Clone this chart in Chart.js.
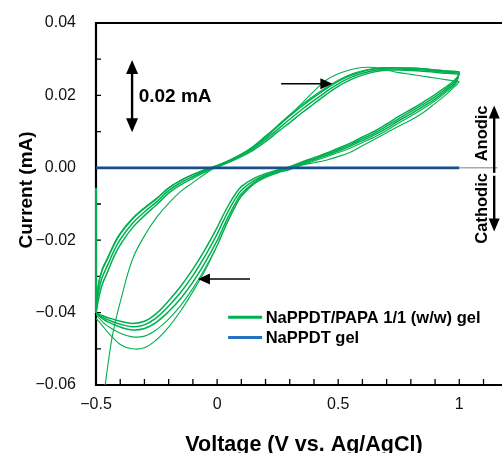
<!DOCTYPE html>
<html><head><meta charset="utf-8">
<script src="https://cdn.jsdelivr.net/npm/chart.js@4.4.1/dist/chart.umd.min.js"></script>
<style>
html,body{margin:0;padding:0;overflow:hidden;background:#fff;width:502px;height:453px}
#wrap{position:absolute;left:0;top:0;width:520px;height:453px}
</style>
</head><body><div id="wrap"><canvas id="c" width="520" height="453"></canvas></div>
<script>
// ---------- DATA ----------
// Potential sampling of a CV cycle (V vs. Ag/AgCl)
const potentialForward = [-0.5, -0.49, -0.475, -0.45, -0.425, -0.4, -0.35, -0.3, -0.25, -0.2, -0.15, -0.1, -0.05, 0, 0.05, 0.1, 0.15, 0.2, 0.25, 0.3, 0.35, 0.4, 0.45, 0.5, 0.55, 0.6, 0.65, 0.7, 0.75, 0.8, 0.85, 0.9, 0.95, 1.0];
const potentialReverse = [0.99, 0.975, 0.95, 0.9, 0.85, 0.8, 0.75, 0.7, 0.65, 0.6, 0.55, 0.5, 0.45, 0.4, 0.35, 0.3, 0.25, 0.2, 0.15, 0.1, 0.075, 0.05, 0.025, 0, -0.05, -0.1, -0.15, -0.2, -0.25, -0.3, -0.35, -0.4, -0.45, -0.475, -0.5];
const potentialCycle1Forward = [-0.475, -0.463, -0.45, -0.43, -0.4, -0.35, -0.3, -0.25, -0.2, -0.15, -0.1, -0.05, 0, 0.05, 0.1, 0.15, 0.2, 0.25, 0.3, 0.35, 0.4, 0.45, 0.5, 0.55, 0.6, 0.65, 0.7, 0.75, 0.8, 0.85, 0.9, 0.95, 1.0];

// NaPPDT/PAPA 1/1 (w/w) gel, current (mA)
const currentCycle1Forward = [-0.0660, -0.0605, -0.0540, -0.0456, -0.0371, -0.0254, -0.0188, -0.0137, -0.0098, -0.0065, -0.0041, -0.0017, 0.0004, 0.0020, 0.0037, 0.0060, 0.0088, 0.0115, 0.0145, 0.0178, 0.0212, 0.0242, 0.0260, 0.0271, 0.0277, 0.0277, 0.0270, 0.0263, 0.0258, 0.0253, 0.0248, 0.0243, 0.0238];
const currentCycle1Reverse = [0.0230, 0.0221, 0.0205, 0.0178, 0.0152, 0.0132, 0.0115, 0.0097, 0.0079, 0.0061, 0.0043, 0.0031, 0.0021, 0.0014, 0.0008, -0.0002, -0.0010, -0.0021, -0.0042, -0.0078, -0.0107, -0.0140, -0.0176, -0.0215, -0.0284, -0.0342, -0.0395, -0.0440, -0.0475, -0.0497, -0.0500, -0.0488, -0.0455, -0.0435, -0.0416];
const currentCycle2Forward = [-0.0405, -0.0322, -0.0281, -0.0245, -0.0209, -0.0180, -0.0140, -0.0110, -0.0084, -0.0055, -0.0034, -0.0018, -0.0005, 0.0007, 0.0021, 0.0038, 0.0059, 0.0086, 0.0117, 0.0147, 0.0174, 0.0199, 0.0222, 0.0242, 0.0258, 0.0268, 0.0275, 0.0277, 0.0277, 0.0276, 0.0274, 0.0271, 0.0268, 0.0266];
const currentCycle2Reverse = [0.0237, 0.0225, 0.0211, 0.0185, 0.0163, 0.0143, 0.0124, 0.0103, 0.0085, 0.0070, 0.0055, 0.0042, 0.0030, 0.0019, 0.0008, -0.0005, -0.0014, -0.0027, -0.0046, -0.0079, -0.0107, -0.0140, -0.0177, -0.0215, -0.0278, -0.0333, -0.0380, -0.0418, -0.0447, -0.0465, -0.0467, -0.0457, -0.0438, -0.0424, -0.0405];
const currentCycle3Forward = [-0.0401, -0.0325, -0.0284, -0.0248, -0.0212, -0.0183, -0.0142, -0.0112, -0.0086, -0.0056, -0.0035, -0.0019, -0.0006, 0.0006, 0.0020, 0.0037, 0.0057, 0.0083, 0.0114, 0.0143, 0.0170, 0.0195, 0.0218, 0.0239, 0.0255, 0.0266, 0.0273, 0.0276, 0.0276, 0.0275, 0.0273, 0.0270, 0.0267, 0.0265];
const currentCycle3Reverse = [0.0241, 0.0229, 0.0216, 0.0190, 0.0169, 0.0149, 0.0130, 0.0109, 0.0091, 0.0075, 0.0060, 0.0046, 0.0034, 0.0022, 0.0010, -0.0003, -0.0012, -0.0024, -0.0042, -0.0072, -0.0099, -0.0130, -0.0165, -0.0201, -0.0262, -0.0316, -0.0361, -0.0397, -0.0426, -0.0444, -0.0448, -0.0440, -0.0426, -0.0416, -0.0401];
const currentCycle4Forward = [-0.0401, -0.0345, -0.0304, -0.0266, -0.0228, -0.0198, -0.0154, -0.0122, -0.0094, -0.0063, -0.0041, -0.0024, -0.0009, 0.0004, 0.0018, 0.0034, 0.0053, 0.0078, 0.0106, 0.0134, 0.0161, 0.0186, 0.0210, 0.0232, 0.0249, 0.0261, 0.0269, 0.0273, 0.0273, 0.0272, 0.0270, 0.0267, 0.0264, 0.0262];
const currentCycle4Reverse = [0.0245, 0.0234, 0.0221, 0.0196, 0.0175, 0.0155, 0.0136, 0.0115, 0.0096, 0.0080, 0.0064, 0.0050, 0.0037, 0.0025, 0.0013, 0.0000, -0.0009, -0.0020, -0.0036, -0.0062, -0.0086, -0.0115, -0.0148, -0.0183, -0.0244, -0.0298, -0.0344, -0.0382, -0.0414, -0.0434, -0.0439, -0.0432, -0.0420, -0.0412, -0.0401];
const currentCycle5Forward = [-0.0401, -0.0365, -0.0324, -0.0284, -0.0244, -0.0213, -0.0166, -0.0132, -0.0102, -0.0070, -0.0047, -0.0029, -0.0012, 0.0002, 0.0016, 0.0031, 0.0049, 0.0072, 0.0099, 0.0125, 0.0152, 0.0177, 0.0202, 0.0225, 0.0243, 0.0256, 0.0265, 0.0270, 0.0270, 0.0269, 0.0267, 0.0264, 0.0261, 0.0259];
const currentCycle5Reverse = [0.0249, 0.0239, 0.0226, 0.0202, 0.0181, 0.0161, 0.0142, 0.0121, 0.0101, 0.0085, 0.0068, 0.0054, 0.0040, 0.0028, 0.0016, 0.0003, -0.0006, -0.0016, -0.0030, -0.0052, -0.0073, -0.0100, -0.0131, -0.0165, -0.0226, -0.0280, -0.0327, -0.0367, -0.0402, -0.0424, -0.0430, -0.0424, -0.0414, -0.0408, -0.0401];
// initial hold at -0.5 V
const potentialStart = [-0.5, -0.5];
const currentStart = [-0.0055, -0.0401];

// NaPPDT gel
const potentialNaPPDT = [-0.5, 1.0];
const currentNaPPDT = [0, 0];

// Axis ticks
const xTicks = [-0.5, 0, 0.5, 1];
const xTickLabels = ['\u22120.5', '0', '0.5', '1'];
const xMinorTicks = [-0.4, -0.3, -0.2, -0.1, 0.1, 0.2, 0.3, 0.4, 0.6, 0.7, 0.8, 0.9, 1.1, 1.2];
const yTicks = [-0.06, -0.04, -0.02, 0, 0.02, 0.04];
const yTickLabels = ['\u22120.06', '\u22120.04', '\u22120.02', '0.00', '0.02', '0.04'];
const yMinorTicks = [-0.05, -0.03, -0.01, 0.01, 0.03];

const seriesNames = ['NaPPDT/PAPA 1/1 (w/w) gel', 'NaPPDT gel'];

// ---------- STYLE / LAYOUT ----------
const FONT = "'Liberation Sans', Arial, Helvetica, sans-serif";
const GREEN = '#00b050';
const BLUE = '#184f8c';
const BLUE_LEGEND = '#2272c0';
const PLOT = {top: 23, bottom: 385, left: 96, pxPerVolt: 242.2};
let padTop = PLOT.top;
let xAxisHeight = 453 - PLOT.bottom;
let xMax = 1.25;

// annotation anchors in data units
const ANN = {
  scaleBar: {x: -0.351, y1: 0.0298, y2: 0.0098, textX: -0.324, textY: 0.0195, text: '0.02 mA'},
  arrowFwd: {from: 0.2645, to: 0.476, y: 0.0232},
  arrowRev: {from: 0.136, to: -0.079, y: -0.0307},
  sideText: {x: 1.094, anodicY: 0.0095, cathodicY: -0.0112},
  sideArrow: {x: 1.144, upFrom: -0.0014, upTo: 0.0172, downFrom: -0.0022, downTo: -0.0176},
  sep: {from: 1.0, to: 1.157, y: 0},
  legend: {x1: 0.0455, x2: 0.186, textX: 0.2005, y1: -0.0413, y2: -0.0469}
};

function branch(vs, is) { return vs.map((v, k) => ({x: v, y: is[k]})); }
function closeRev(fwd, rev) { return branch([1.0].concat(potentialReverse), [fwd[fwd.length - 1]].concat(rev)); }

const cycles = [
  {f: branch(potentialCycle1Forward, currentCycle1Forward), r: closeRev(currentCycle1Forward, currentCycle1Reverse), w: 1.1},
  {f: branch(potentialForward, currentCycle2Forward), r: closeRev(currentCycle2Forward, currentCycle2Reverse), w: 1.1},
  {f: branch(potentialForward, currentCycle3Forward), r: closeRev(currentCycle3Forward, currentCycle3Reverse), w: 1.5},
  {f: branch(potentialForward, currentCycle4Forward), r: closeRev(currentCycle4Forward, currentCycle4Reverse), w: 1.5},
  {f: branch(potentialForward, currentCycle5Forward), r: closeRev(currentCycle5Forward, currentCycle5Reverse), w: 1.5}
];

function makeDatasets() {
  const ds = [];
  ds.push({label: seriesNames[1], data: branch(potentialNaPPDT, currentNaPPDT), borderColor: BLUE, borderWidth: 2.8, showLine: true, pointRadius: 0, tension: 0, order: 0});
  cycles.forEach(c => {
    [c.f, c.r].forEach(d => ds.push({label: seriesNames[0], data: d, borderColor: GREEN, borderWidth: c.w, showLine: true, pointRadius: 0, tension: 0.4, order: 2}));
  });
  ds.push({label: seriesNames[0], data: branch(potentialStart, currentStart), borderColor: GREEN, borderWidth: 2, showLine: true, pointRadius: 0, tension: 0, order: 1, clip: false});
  return ds;
}

function arrowHead(ctx, tx, ty, dx, dy, len, half) {
  const n = Math.hypot(dx, dy); const ux = dx / n, uy = dy / n;
  ctx.beginPath();
  ctx.moveTo(tx, ty);
  ctx.lineTo(tx - ux * len - uy * half, ty - uy * len + ux * half);
  ctx.lineTo(tx - ux * len + uy * half, ty - uy * len - ux * half);
  ctx.closePath(); ctx.fill();
}
function arrow(ctx, x1, y1, x2, y2, lw, len, half) {
  const n = Math.hypot(x2 - x1, y2 - y1);
  ctx.lineWidth = lw;
  ctx.beginPath(); ctx.moveTo(x1, y1);
  ctx.lineTo(x2 - (x2 - x1) / n * (len - 1), y2 - (y2 - y1) / n * (len - 1)); ctx.stroke();
  arrowHead(ctx, x2, y2, x2 - x1, y2 - y1, len, half);
}

const decor = {
  id: 'decor',
  beforeDatasetsDraw(chart) {
    const {ctx, chartArea: a, scales: {x, y}} = chart;
    ctx.save();
    ctx.strokeStyle = '#000';
    ctx.lineWidth = 1.3;
    ctx.beginPath();
    xTicks.concat(xMinorTicks).forEach(v => { const p = x.getPixelForValue(v); ctx.moveTo(p, a.bottom); ctx.lineTo(p, a.bottom - 6); });
    yTicks.concat(yMinorTicks).forEach(v => { const p = y.getPixelForValue(v); ctx.moveTo(a.left, p); ctx.lineTo(a.left + 5, p); });
    ctx.stroke();
    ctx.lineWidth = 2.2;
    ctx.beginPath();
    ctx.moveTo(a.right + 5, a.top); ctx.lineTo(a.left, a.top); ctx.lineTo(a.left, a.bottom); ctx.lineTo(a.right + 5, a.bottom);
    ctx.stroke();
    ctx.restore();
  },
  afterDatasetsDraw(chart) {
    const {ctx, scales: {x, y}} = chart;
    ctx.save();
    ctx.fillStyle = '#000';
    // separator
    ctx.strokeStyle = '#a8a8a8'; ctx.lineWidth = 1.6;
    ctx.beginPath(); ctx.moveTo(x.getPixelForValue(ANN.sep.from), y.getPixelForValue(ANN.sep.y)); ctx.lineTo(x.getPixelForValue(ANN.sep.to), y.getPixelForValue(ANN.sep.y)); ctx.stroke();
    ctx.strokeStyle = '#000';
    // scale bar double arrow
    const sbx = x.getPixelForValue(ANN.scaleBar.x), sy1 = y.getPixelForValue(ANN.scaleBar.y1), sy2 = y.getPixelForValue(ANN.scaleBar.y2);
    ctx.lineWidth = 2.4;
    ctx.beginPath(); ctx.moveTo(sbx, sy1 + 12); ctx.lineTo(sbx, sy2 - 12); ctx.stroke();
    arrowHead(ctx, sbx, sy1, 0, -1, 14, 6);
    arrowHead(ctx, sbx, sy2, 0, 1, 14, 6);
    ctx.font = 'bold 19px ' + FONT; ctx.textAlign = 'left'; ctx.textBaseline = 'middle';
    ctx.fillText(ANN.scaleBar.text, x.getPixelForValue(ANN.scaleBar.textX), y.getPixelForValue(ANN.scaleBar.textY));
    // direction arrows
    arrow(ctx, x.getPixelForValue(ANN.arrowFwd.from), y.getPixelForValue(ANN.arrowFwd.y), x.getPixelForValue(ANN.arrowFwd.to), y.getPixelForValue(ANN.arrowFwd.y), 1.6, 12, 5.5);
    arrow(ctx, x.getPixelForValue(ANN.arrowRev.from), y.getPixelForValue(ANN.arrowRev.y), x.getPixelForValue(ANN.arrowRev.to), y.getPixelForValue(ANN.arrowRev.y), 1.6, 12, 5.5);
    // Anodic / Cathodic
    const sx = x.getPixelForValue(ANN.sideText.x);
    ctx.font = 'bold 16.5px ' + FONT; ctx.textAlign = 'center'; ctx.textBaseline = 'middle';
    [['Anodic', ANN.sideText.anodicY], ['Cathodic', ANN.sideText.cathodicY]].forEach(([t, v]) => {
      ctx.save(); ctx.translate(sx, y.getPixelForValue(v)); ctx.rotate(-Math.PI / 2); ctx.fillText(t, 0, 0); ctx.restore();
    });
    const ax = x.getPixelForValue(ANN.sideArrow.x);
    arrow(ctx, ax, y.getPixelForValue(ANN.sideArrow.upFrom), ax, y.getPixelForValue(ANN.sideArrow.upTo), 2.4, 13, 5.5);
    arrow(ctx, ax, y.getPixelForValue(ANN.sideArrow.downFrom), ax, y.getPixelForValue(ANN.sideArrow.downTo), 2.4, 13, 5.5);
    // legend
    const L = ANN.legend;
    [[GREEN, L.y1, seriesNames[0]], [BLUE_LEGEND, L.y2, seriesNames[1]]].forEach(([col, v, t]) => {
      const py = y.getPixelForValue(v);
      ctx.lineWidth = 3;
      ctx.strokeStyle = col; ctx.beginPath(); ctx.moveTo(x.getPixelForValue(L.x1), py); ctx.lineTo(x.getPixelForValue(L.x2), py); ctx.stroke();
      ctx.fillStyle = '#000'; ctx.font = 'bold 16.5px ' + FONT; ctx.textAlign = 'left'; ctx.textBaseline = 'middle';
      ctx.fillText(t, x.getPixelForValue(L.textX), py + 1);
    });
    // axis titles
    ctx.fillStyle = '#000';
    ctx.font = 'bold 19px ' + FONT; ctx.textAlign = 'center'; ctx.textBaseline = 'middle';
    ctx.save(); ctx.translate(27, 190); ctx.rotate(-Math.PI / 2); ctx.fillText('Current (mA)', 0, 0); ctx.restore();
    ctx.font = 'bold 21.5px ' + FONT;
    ctx.fillText('Voltage (V vs. Ag/AgCl)', 304, 445);
    ctx.restore();
  }
};

function makeConfig() {
  return {
    type: 'scatter',
    data: {datasets: makeDatasets()},
    options: {
      responsive: false, animation: false,
      layout: {padding: {top: padTop, right: 0, bottom: 0, left: 0}},
      plugins: {legend: {display: false}, tooltip: {enabled: false}},
      scales: {
        x: {
          type: 'linear', min: -0.5, max: xMax,
          grid: {display: false, drawTicks: false}, border: {display: false},
          afterBuildTicks: s => { s.ticks = xTicks.map(v => ({value: v})); },
          afterFit: s => { s.height = xAxisHeight; s.paddingLeft = 0; s.paddingRight = 0; },
          ticks: {padding: 10, color: '#111', font: {family: FONT, size: 16}, maxRotation: 0, autoSkip: false,
            callback: (v, i) => xTickLabels[i]}
        },
        y: {
          type: 'linear', min: -0.06, max: 0.04,
          grid: {display: false, drawTicks: false}, border: {display: false},
          afterBuildTicks: s => { s.ticks = yTicks.map(v => ({value: v})); },
          afterFit: s => { s.width = PLOT.left; s.paddingTop = 0; s.paddingBottom = 0; },
          ticks: {padding: 20, color: '#111', font: {family: FONT, size: 16}, autoSkip: false,
            callback: (v, i) => yTickLabels[i]}
        }
      }
    },
    plugins: [decor]
  };
}

const canvas = document.getElementById('c');
let chart = new Chart(canvas, makeConfig());
// pin the plot frame to the reference position (measure, then rebuild)
for (let k = 0; k < 4; k++) {
  const yS = chart.scales.y, xS = chart.scales.x;
  const topPx = yS.getPixelForValue(0.04), botPx = yS.getPixelForValue(-0.06);
  const dt = PLOT.top - topPx, db = botPx - PLOT.bottom;
  const wantMax = -0.5 + (xS.right - xS.left) / PLOT.pxPerVolt;
  if (Math.abs(dt) < 0.2 && Math.abs(db) < 0.2 && Math.abs(wantMax - xMax) < 1e-4) break;
  padTop += dt;
  xAxisHeight += db;
  xMax = wantMax;
  chart.destroy();
  chart = new Chart(canvas, makeConfig());
}
</script>
</body></html>
